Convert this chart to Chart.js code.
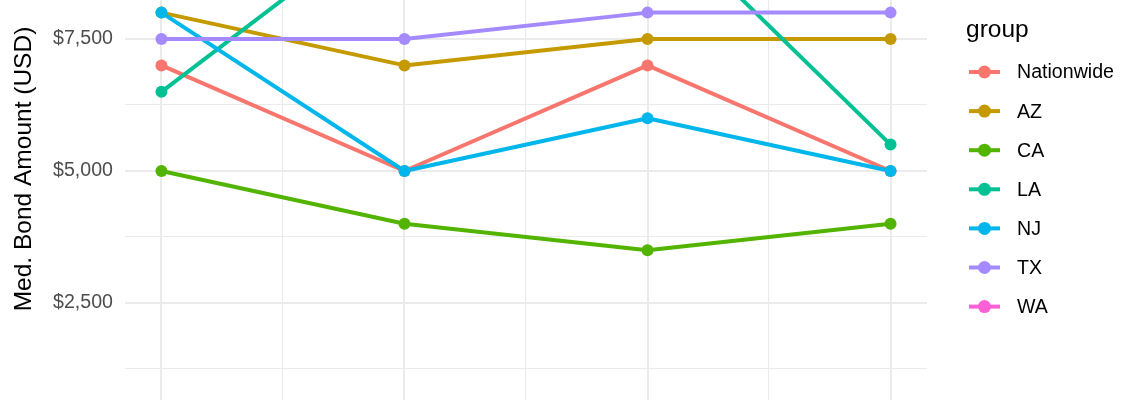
<!DOCTYPE html>
<html>
<head>
<meta charset="utf-8">
<script src="https://cdn.jsdelivr.net/npm/chart.js@4"></script>
<style>
  html, body { margin: 0; padding: 0; background: #fff; }
  #wrap { width: 1140px; height: 400px; position: relative; }
</style>
</head>
<body>
<div id="wrap"><canvas id="bondChart"></canvas></div>
<script>
// values (x = period index 0..3)
const periods = [0, 1, 2, 3];
const groups = ['Nationwide', 'AZ', 'CA', 'LA', 'NJ', 'TX', 'WA'];
const nationwide = [7000, 5000, 7000, 5000];
const az = [8000, 7000, 7500, 7500];
const ca = [5000, 4000, 3500, 4000];
const la = [6500, 10000, 10000, 5500];
const nj = [8000, 5000, 6000, 5000];
const tx = [7500, 7500, 8000, 8000];
const wa = [10000, 10000, 10000, 10000]; // above the visible window
const yTicks = [1250, 2500, 3750, 5000, 6250, 7500];
const xTicks = [0, 0.5, 1, 1.5, 2, 2.5, 3];
const yTitle = 'Med. Bond Amount (USD)';

// ggplot hue palette
const colors = ['#F8766D', '#C49A00', '#53B400', '#00C094', '#00B6EB', '#A58AFF', '#FB61D7'];
const series = [nationwide, az, ca, la, nj, tx, wa];

const FONT = "'Liberation Sans', Arial, sans-serif";
const GRID = '#EBEBEB';

Chart.defaults.font.family = FONT;

// lines first, then points on top (like geom_line + geom_point)
const lineSets = series.map((vals, i) => ({
    label: groups[i],
    data: vals.map((v, k) => ({ x: periods[k], y: v })),
    borderColor: colors[i],
    backgroundColor: colors[i],
    borderWidth: 4,
    borderJoinStyle: 'round',
    pointRadius: 0,
    tension: 0,
    fill: false,
    order: 100 - i,
    clip: false
}));
const pointSets = series.map((vals, i) => ({
    label: groups[i] + '_pts',
    data: vals.map((v, k) => ({ x: periods[k], y: v })),
    showLine: false,
    pointRadius: 6,
    pointBorderWidth: 0,
    pointBackgroundColor: colors[i],
    order: 50 - i,
    clip: false
}));

// ggplot-style legend on the right + axis title centred on the full (uncropped) panel
const sideLegend = {
    id: 'sideLegend',
    afterDraw(chart) {
        const ctx = chart.ctx;
        ctx.save();
        ctx.fillStyle = '#000';
        ctx.font = '24.5px ' + FONT;
        ctx.textBaseline = 'alphabetic';

        ctx.save();
        ctx.translate(31, 169);
        ctx.rotate(-Math.PI / 2);
        ctx.textAlign = 'center';
        ctx.fillText(yTitle, 0, 0);
        ctx.restore();

        ctx.textAlign = 'left';
        ctx.fillText('group', 966, 37);
        ctx.font = '19.6px ' + FONT;
        ctx.textBaseline = 'middle';
        groups.forEach((g, i) => {
            const y = 72 + i * 39.1;
            ctx.strokeStyle = colors[i];
            ctx.lineWidth = 4;
            ctx.beginPath();
            ctx.moveTo(969, y);
            ctx.lineTo(1000, y);
            ctx.stroke();
            ctx.fillStyle = colors[i];
            ctx.beginPath();
            ctx.arc(984.5, y, 6.5, 0, Math.PI * 2);
            ctx.fill();
            ctx.fillStyle = '#000';
            ctx.fillText(g, 1017, y + 1);
        });
        ctx.restore();
    }
};

new Chart(document.getElementById('bondChart'), {
    type: 'line',
    data: { datasets: lineSets.concat(pointSets) },
    plugins: [sideLegend],
    options: {
        responsive: true,
        maintainAspectRatio: false,
        animation: false,
        layout: { autoPadding: false, padding: { left: 0, right: 213, top: 0, bottom: 0 } },
        plugins: {
            legend: { display: false },
            tooltip: { enabled: false }
        },
        scales: {
            x: {
                type: 'linear',
                min: -0.15,
                max: 3.15,
                afterBuildTicks: (s) => { s.ticks = xTicks.map(v => ({ value: v })); },
                afterFit: (s) => { s.height = 0; s.paddingLeft = 0; s.paddingRight = 0; },
                ticks: { display: false },
                grid: {
                    color: GRID,
                    drawTicks: false,
                    lineWidth: (c) => (c.tick && c.tick.value % 1 === 0) ? 2 : 1.1
                },
                border: { display: false }
            },
            y: {
                type: 'linear',
                min: 663,
                max: 8239,
                afterBuildTicks: (s) => { s.ticks = yTicks.map(v => ({ value: v })); },
                afterFit: (s) => { s.width = 125; s.paddingTop = 0; s.paddingBottom = 0; },
                ticks: {
                    color: '#4D4D4D',
                    padding: 12,
                    font: { size: 19.6, family: FONT },
                    callback: (v) => v % 2500 === 0 ? '$' + v.toLocaleString('en-US') : ''
                },
                grid: {
                    color: GRID,
                    drawTicks: false,
                    lineWidth: (c) => (c.tick && c.tick.value % 2500 === 0) ? 2 : 1.1
                },
                border: { display: false },
                title: { display: false }
            }
        }
    }
});
</script>
</body>
</html>
